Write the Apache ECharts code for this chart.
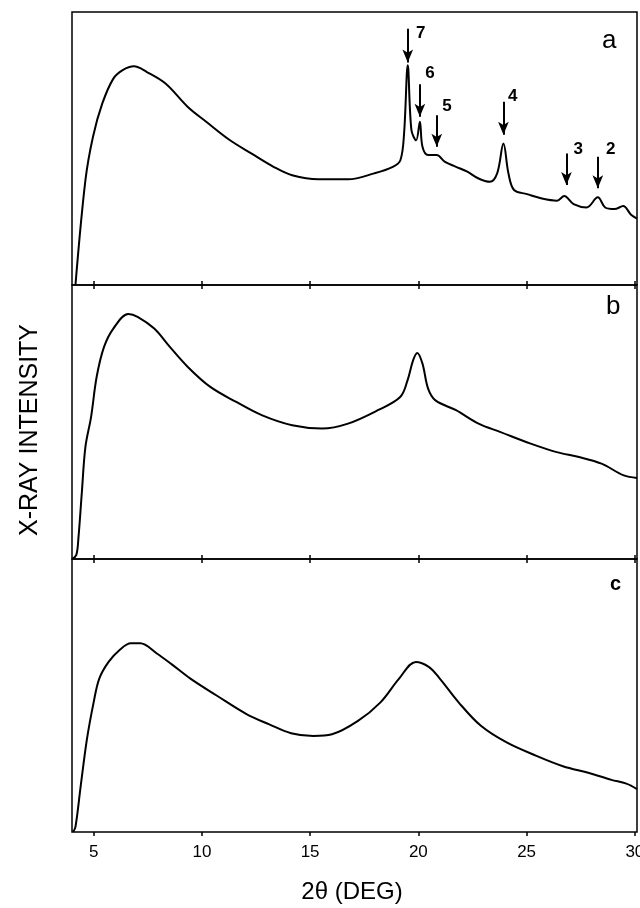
<!DOCTYPE html>
<html>
<head>
<meta charset="utf-8">
<script src="https://cdn.jsdelivr.net/npm/echarts@6/dist/echarts.min.js"></script>
<style>
  html, body { margin: 0; padding: 0; background: #fff; }
  #chart { width: 640px; height: 908px; }
</style>
</head>
<body>
<div id="chart"></div>
<script>
// 2θ tick values
const tickValues = [5, 10, 15, 20, 25, 30]

// trace a (intensity in % of panel height)
const curveA = [
  [4.16, 0], [4.62, 38.4], [4.97, 54.3], [5.40, 66.5], [5.91, 75.6], [6.34, 78.7],
  [6.86, 80.1], [7.46, 78.0], [8.32, 73.8], [9.35, 65.2], [10.2, 59.8], [11.25, 53.3],
  [12.28, 48.2], [13.31, 43.3], [14.17, 40.2], [15.38, 38.7], [16.76, 38.7], [17.96, 40.9],
  [18.82, 43.3], [19.17, 45.7], [19.34, 55.5], [19.51, 80.5], [19.68, 56.7], [19.9, 53.0],
  [20.07, 59.8], [20.19, 50.6], [20.45, 47.6], [20.85, 47.6], [21.23, 45.1], [21.74, 43.3],
  [22.26, 41.5], [22.78, 39.0], [23.3, 37.8], [23.64, 40.9], [23.93, 51.8], [24.16, 40.9],
  [24.42, 34.8], [25.02, 33.3], [25.71, 31.7], [26.4, 30.9], [26.74, 32.6], [27.17, 29.6],
  [27.77, 28.4], [28.29, 32.1], [28.63, 28.4], [29.06, 27.8], [29.46, 28.9], [29.84, 25.6],
  [30.1, 24.3]
]

// trace b
const curveB = [
  [4.0, 0], [4.2, 1.5], [4.3, 8], [4.45, 23.8], [4.62, 40.9], [4.88, 51.8], [5.14, 66.5],
  [5.48, 77.4], [5.91, 84.1], [6.6, 89.4], [7.03, 88.4], [7.8, 84.1], [8.49, 77.7],
  [9.35, 70.1], [10.39, 62.8], [11.59, 57.3], [12.79, 52.4], [14.17, 48.8], [15.55, 47.6],
  [16.75, 49.4], [18.13, 54.3], [19.16, 59.1], [19.5, 65.2], [19.76, 72.6], [19.95, 75.2],
  [20.19, 71.3], [20.45, 62.2], [20.79, 57.9], [21.74, 54.3], [22.78, 49.4], [23.8, 46.3],
  [25.19, 42.1], [26.39, 39.0], [27.42, 37.2], [28.46, 34.8], [29.49, 30.5], [30.1, 29.6]
]

// trace c
const curveC = [
  [4.05, 0], [4.16, 1.9], [4.4, 16.7], [4.69, 34], [5.0, 47.5], [5.26, 56.2], [5.69, 62.3],
  [6.2, 66.7], [6.72, 69.1], [7.15, 69.1], [7.92, 65.4], [8.61, 61.4], [9.47, 56.2],
  [10.68, 50], [12.06, 43.2], [13.09, 39.5], [14.12, 36.2], [15.15, 35.2], [16.01, 35.8],
  [17.21, 40.7], [18.25, 47.5], [19.11, 56.2], [19.88, 62.3], [20.48, 60.5], [20.99, 56.2],
  [21.86, 47.5], [22.89, 38.9], [24.1, 32.7], [25.48, 27.8], [26.68, 24.1], [27.89, 21.6],
  [28.92, 19.1], [29.61, 17.7], [30.1, 15.7]
]

// peak markers in panel a
const peakNames = ['7', '6', '5', '4', '3', '2']
const peakX = [19.51, 20.07, 20.85, 23.93, 26.84, 28.29]
const arrowTop = [93.9, 73.5, 62.2, 67.1, 48.2, 47.0]
const arrowTip = [81.5, 61.6, 50.6, 55.0, 36.6, 35.4]
const labelX = [20.11, 20.54, 21.32, 24.36, 27.38, 28.89]
const labelY = [92.1, 77.7, 65.5, 69.1, 49.8, 49.8]

const chart = echarts.init(document.getElementById('chart'))

const font = 'Liberation Sans, Arial, sans-serif'
const grids = [
  { left: 72, right: 3, top: 12, height: 273 },
  { left: 72, right: 3, top: 285, height: 274 },
  { left: 72, right: 3, top: 559, height: 273 }
]

function xBottom(i, withLabels) {
  return {
    type: 'value', gridIndex: i, min: 4, max: 30.1, position: 'bottom',
    axisLine: { show: false },
    splitLine: { show: false },
    axisTick: { show: true, customValues: tickValues, length: 4, lineStyle: { color: '#000', width: 1.5 } },
    axisLabel: {
      show: withLabels, customValues: tickValues, color: '#000',
      fontFamily: font, fontSize: 17, margin: 12
    }
  }
}
function xTop(i) {
  return {
    type: 'value', gridIndex: i, min: 4, max: 30.1, position: 'top',
    axisLine: { show: false },
    splitLine: { show: false },
    axisTick: { show: true, customValues: tickValues, length: 4, lineStyle: { color: '#000', width: 1.5 } },
    axisLabel: { show: false }
  }
}
function yAx(i) {
  return {
    type: 'value', gridIndex: i, min: 0, max: 100,
    axisLine: { show: false }, axisTick: { show: false },
    axisLabel: { show: false }, splitLine: { show: false }
  }
}

const lineStyle = { color: '#000', width: 2 }

function trace(name, data, xi, yi) {
  return {
    name: name, type: 'line', xAxisIndex: xi, yAxisIndex: yi, data: data,
    symbol: 'none', smooth: 0.35,
    lineStyle: lineStyle, silent: true
  }
}

const arrows = peakX.map((x, i) => [
  { coord: [x, arrowTop[i]] },
  { coord: [x, arrowTip[i]] }
])
const peakLabels = peakNames.map((n, i) => [labelX[i], labelY[i], n])

const seriesA = trace('a', curveA, 0, 0)
seriesA.markLine = {
  silent: true,
  symbol: ['none', 'arrow'],
  symbolSize: [8, 13],
  label: { show: false },
  lineStyle: { color: '#000', width: 2, type: 'solid' },
  data: arrows
}

const option = {
  backgroundColor: '#fff',
  animation: false,
  grid: grids.map(g => Object.assign({
    show: true, borderColor: '#000', borderWidth: 1.5,
    backgroundColor: 'transparent', outerBoundsMode: 'none'
  }, g)),
  xAxis: [xBottom(0, false), xBottom(1, false), xTop(1), xBottom(2, true), xTop(2)],
  yAxis: [yAx(0), yAx(1), yAx(2)],
  series: [
    seriesA,
    trace('b', curveB, 1, 1),
    trace('c', curveC, 3, 2),
    {
      type: 'scatter', xAxisIndex: 0, yAxisIndex: 0, data: peakLabels,
      symbolSize: 0, silent: true,
      itemStyle: { color: '#000', opacity: 1 },
      label: {
        show: true, position: 'inside', formatter: p => p.value[2],
        color: '#000', textBorderWidth: 0, fontFamily: font, fontSize: 17, fontWeight: 'bold'
      }
    }
  ],
  graphic: [
    { type: 'text', left: 602, top: 28, style: { text: 'a', font: '26px ' + font, fill: '#000' } },
    { type: 'text', left: 606, top: 294, style: { text: 'b', font: '26px ' + font, fill: '#000' } },
    { type: 'text', left: 610, top: 574, style: { text: 'c', font: 'bold 20px ' + font, fill: '#000' } },
    {
      type: 'text', x: 30, y: 430, rotation: Math.PI / 2,
      style: { text: 'X-RAY INTENSITY', font: '25px ' + font, fill: '#000', align: 'center', verticalAlign: 'middle' }
    },
    {
      type: 'text', x: 352, y: 892,
      style: { text: '2θ (DEG)', font: '24px ' + font, fill: '#000', align: 'center', verticalAlign: 'middle' }
    }
  ]
}

chart.setOption(option)
</script>
</body>
</html>
